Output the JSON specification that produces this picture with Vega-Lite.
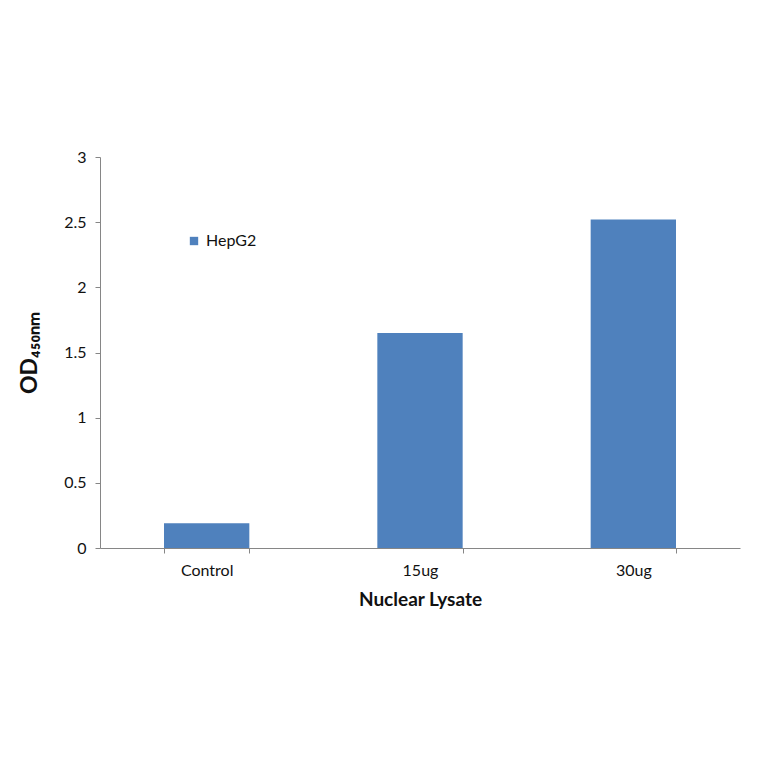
{
  "$schema": "https://vega.github.io/schema/vega-lite/v6.json",
  "autosize": "none",
  "width": 640,
  "height": 391,
  "padding": {"left": 100, "top": 157, "right": 24, "bottom": 216},
  "background": "white",
  "config": {
    "view": {"stroke": null},
    "font": "Lato",
    "axis": {
      "domainColor": "#868686",
      "tickColor": "#868686",
      "labelColor": "#111111",
      "titleColor": "#111111",
      "labelFont": "Lato",
      "titleFont": "Lato",
      "grid": false
    }
  },
  "data": {
    "values": [
      {"sample": "Control", "od": 0.19, "cell": "HepG2"},
      {"sample": "15ug", "od": 1.65, "cell": "HepG2"},
      {"sample": "30ug", "od": 2.52, "cell": "HepG2"}
    ]
  },
  "mark": {"type": "bar", "color": "#4F81BD"},
  "encoding": {
    "x": {
      "field": "sample",
      "type": "nominal",
      "sort": ["Control", "15ug", "30ug"],
      "scale": {"paddingInner": 0.6, "paddingOuter": 0.3},
      "axis": {
        "title": "Nuclear Lysate",
        "titleFontSize": 19,
        "titleFontWeight": "bold",
        "titlePadding": 12,
        "labelAngle": 0,
        "labelFontSize": 16,
        "labelPadding": 9,
        "tickBand": "extent",
        "tickSize": 5
      }
    },
    "y": {
      "field": "od",
      "type": "quantitative",
      "scale": {"domain": [0, 3], "nice": false},
      "axis": {
        "title": "OD₄₅₀ₙₘ",
        "titleFontSize": 23,
        "titleFontWeight": "bold",
        "titlePadding": 22,
        "values": [0, 0.5, 1, 1.5, 2, 2.5, 3],
        "format": "~g",
        "labelFontSize": 16,
        "labelPadding": 9,
        "tickSize": 5
      }
    },
    "color": {
      "field": "cell",
      "type": "nominal",
      "scale": {"range": ["#4F81BD"]},
      "legend": {
        "title": null,
        "orient": "none",
        "legendX": 86,
        "legendY": 76,
        "symbolType": "square",
        "symbolSize": 70,
        "symbolStrokeWidth": 0,
        "labelFontSize": 16,
        "labelColor": "#111111",
        "labelFont": "Lato",
        "labelOffset": 4
      }
    }
  }
}
